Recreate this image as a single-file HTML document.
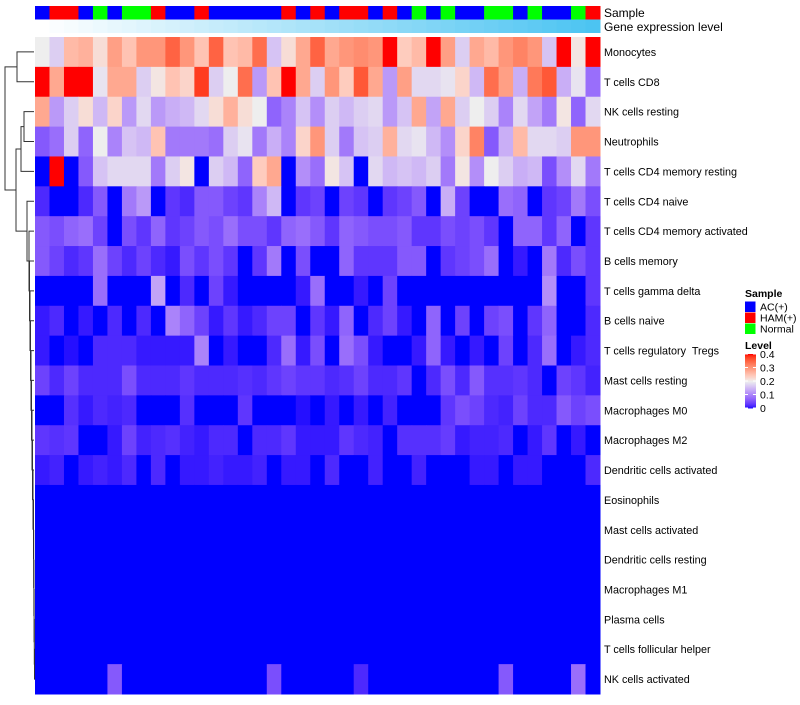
<!DOCTYPE html>
<html><head><meta charset="utf-8"><style>
body{margin:0;background:#fff;}
svg text{font-family:"Liberation Sans",sans-serif;fill:#000;white-space:pre;}
</style></head><body>
<svg id="chart" width="800" height="700" xmlns="http://www.w3.org/2000/svg"></svg>
<script>
const rowLabels=["Monocytes","T cells CD8","NK cells resting","Neutrophils","T cells CD4 memory resting","T cells CD4 naive","T cells CD4 memory activated","B cells memory","T cells gamma delta","B cells naive","T cells regulatory  Tregs","Mast cells resting","Macrophages M0","Macrophages M2","Dendritic cells activated","Eosinophils","Mast cells activated","Dendritic cells resting","Macrophages M1","Plasma cells","T cells follicular helper","NK cells activated"];
const sampleGroups=["AC(+)","HAM(+)","HAM(+)","AC(+)","Normal","AC(+)","Normal","Normal","HAM(+)","AC(+)","AC(+)","HAM(+)","AC(+)","AC(+)","AC(+)","AC(+)","AC(+)","HAM(+)","AC(+)","HAM(+)","AC(+)","HAM(+)","HAM(+)","AC(+)","HAM(+)","AC(+)","Normal","AC(+)","Normal","AC(+)","AC(+)","Normal","Normal","AC(+)","Normal","AC(+)","AC(+)","Normal","HAM(+)"];
const sampleColors={"AC(+)":"#0000FF","HAM(+)":"#FF0000","Normal":"#00FF00"};
const legendTicks=[0,0.1,0.2,0.3,0.4];
const values=[
[.2,.17,.26,.27,.22,.29,.25,.3,.3,.35,.3,.25,.35,.25,.26,.34,.16,.22,.28,.35,.28,.3,.31,.3,.4,.24,.26,.4,.29,.17,.28,.26,.3,.32,.3,.16,.4,.21,.4],
[.4,.28,.4,.4,.19,.28,.28,.17,.21,.25,.23,.38,.17,.2,.34,.12,.25,.4,.28,.17,.3,.24,.36,.28,.12,.29,.18,.18,.19,.23,.15,.34,.29,.14,.33,.36,.14,.19,.08],
[.28,.12,.17,.22,.15,.23,.12,.18,.12,.14,.15,.18,.22,.27,.22,.2,.07,.1,.16,.11,.17,.15,.17,.18,.12,.16,.28,.13,.28,.17,.2,.17,.1,.18,.13,.09,.21,.07,.18],
[.06,.08,.17,.07,.2,.1,.16,.15,.25,.09,.09,.09,.08,.17,.19,.09,.14,.1,.23,.3,.17,.09,.16,.17,.27,.18,.19,.15,.11,.23,.32,.06,.14,.26,.18,.18,.17,.3,.3],
[0,.4,0,.06,.16,.18,.18,.18,.09,.17,.21,0,.17,.15,.07,.24,.28,0,.11,.08,.21,.16,0,.18,.15,.16,.15,.17,.09,.21,.11,.2,.17,.14,.15,.05,.11,.18,.09],
[.02,0,0,.02,.06,0,.09,.12,0,.03,.02,.06,.06,.04,.03,.1,.15,0,.03,.04,0,.04,.03,0,.03,.04,.06,0,.14,.04,0,0,.08,.07,0,.03,.04,.09,.05],
[.06,.05,.07,.08,.04,0,.05,.03,.07,.03,.04,.06,.05,.08,.05,.05,.03,.07,.08,.06,.03,.07,.06,.05,.05,.06,.03,.03,.05,.04,.05,.03,0,.07,.07,.03,.07,0,.03],
[.06,.04,.02,.03,.08,.04,.02,.04,.02,.01,.05,.03,.05,.03,0,.03,.09,0,.05,0,0,.07,.03,.03,.03,.06,.06,0,.03,.04,.05,.08,0,.01,0,.09,.02,.05,.03],
[0,0,0,0,.08,0,0,0,.13,0,.02,0,.04,.01,0,0,0,0,.01,.08,0,0,.01,0,.04,0,0,0,0,0,0,0,0,0,0,.11,0,0,.03],
[.01,.02,0,.01,0,.02,0,.02,0,.1,.07,.04,.01,.03,.01,.02,.04,.04,0,.03,.01,.07,0,.02,.04,.01,0,.07,0,.04,0,.04,.05,0,.03,.07,0,0,.02],
[.01,0,.005,0,.02,.02,.02,.01,.01,.01,.01,.1,0,.01,0,0,.02,.08,.01,.05,0,.08,.05,.01,0,0,.01,.07,.01,0,.01,0,.04,0,.02,.08,0,.01,.02],
[.04,.02,.04,.02,.02,.02,.05,.02,.02,.02,.03,.02,.02,.02,.025,.02,.03,.04,.03,.03,.02,.025,.04,.02,.02,.03,0,.02,.05,.02,.06,.025,.025,.03,.02,0,.04,.03,.015],
[0,0,.025,.01,.02,.015,.02,0,0,0,.025,0,0,0,.03,0,0,0,.005,0,.01,0,.01,0,.015,0,0,0,.03,.05,.04,.02,.015,.04,.02,.02,.06,.04,.05],
[.03,.025,.03,0,0,.01,.04,.015,.02,.025,.015,.01,.02,.02,0,.02,.02,.03,.01,.01,.01,.03,.02,.015,0,.025,.025,.025,.035,.01,.015,.015,.02,0,.01,.03,0,.01,0],
[.01,.015,0,.01,.015,.01,.02,0,.02,0,.01,.01,.015,.01,.01,.015,0,.01,.01,0,.02,0,0,.015,0,0,.015,0,0,0,.01,.01,0,.01,.01,0,0,0,.02],
[0,0,0,0,0,0,0,0,0,0,0,0,0,0,0,0,0,0,0,0,0,0,0,0,0,0,0,0,0,0,0,0,0,0,0,0,0,0,0],
[0,0,0,0,0,0,0,0,0,0,0,0,0,0,0,0,0,0,0,0,0,0,0,0,0,0,0,0,0,0,0,0,0,0,0,0,0,0,0],
[0,0,0,0,0,0,0,0,0,0,0,0,0,0,0,0,0,0,0,0,0,0,0,0,0,0,0,0,0,0,0,0,0,0,0,0,0,0,0],
[0,0,0,0,0,0,0,0,0,0,0,0,0,0,0,0,0,0,0,0,0,0,0,0,0,0,0,0,0,0,0,0,0,0,0,0,0,0,0],
[0,0,0,0,0,0,0,0,0,0,0,0,0,0,0,0,0,0,0,0,0,0,0,0,0,0,0,0,0,0,0,0,0,0,0,0,0,0,0],
[0,0,0,0,0,0,0,0,0,0,0,0,0,0,0,0,0,0,0,0,0,0,0,0,0,0,0,0,0,0,0,0,0,0,0,0,0,0,0],
[0,0,0,0,0,.06,0,0,0,0,0,0,0,0,0,0,.05,0,0,0,0,0,.02,0,0,0,0,0,0,0,0,0,.06,0,0,0,0,.08,0]
];
const NS="http://www.w3.org/2000/svg";
const svg=document.getElementById('chart');
function mk(t,a,p){const e=document.createElementNS(NS,t);for(const k in a)e.setAttribute(k,a[k]);(p||svg).appendChild(e);return e;}
const X0=35,X1=600,Y0=37,Y1=694;
const nC=sampleGroups.length,nR=rowLabels.length;
const cw=(X1-X0)/nC,rh=(Y1-Y0)/nR;
const xCol=i=>X0+i*cw, yRow=r=>Y0+r*rh;
function toLin(c){c/=255;return c<=0.04045?c/12.92:Math.pow((c+0.055)/1.055,2.4);}
function fromLin(c){const v=c<=0.0031308?12.92*c:1.055*Math.pow(c,1/2.4)-0.055;return Math.round(Math.max(0,Math.min(1,v))*255);}
function rgb2lab(r,g,b){r=toLin(r);g=toLin(g);b=toLin(b);let x=(0.4124*r+0.3576*g+0.1805*b)/0.95047,y=0.2126*r+0.7152*g+0.0722*b,z=(0.0193*r+0.1192*g+0.9505*b)/1.08883;const f=t=>t>0.008856?Math.cbrt(t):7.787*t+16/116;x=f(x);y=f(y);z=f(z);return[116*y-16,500*(x-y),200*(y-z)];}
function lab2rgb(L,a,b){let y=(L+16)/116,x=a/500+y,z=y-b/200;const fi=t=>t*t*t>0.008856?t*t*t:(t-16/116)/7.787;x=fi(x)*0.95047;y=fi(y);z=fi(z)*1.08883;const r=3.2406*x-1.5372*y-0.4986*z,g=-0.9689*x+1.8758*y+0.0415*z,bb=0.0557*x-0.2040*y+1.0570*z;return`rgb(${fromLin(r)},${fromLin(g)},${fromLin(bb)})`;}
const stops=[[0,rgb2lab(0,0,255)],[0.2,rgb2lab(238,238,238)],[0.4,rgb2lab(255,0,0)]];
function colorOf(v){v=Math.max(0,Math.min(0.4,v));const i=v<=0.2?0:1;const t=(v-stops[i][0])/0.2;const a=stops[i][1],b=stops[i+1][1];return lab2rgb(a[0]+(b[0]-a[0])*t,a[1]+(b[1]-a[1])*t,a[2]+(b[2]-a[2])*t);}
const gAnn=mk('g',{});


sampleGroups.forEach((s,i)=>{const r=mk('rect',{x:xCol(i),y:6,width:cw+0.5,height:13.5,fill:sampleColors[s]},gAnn);

});
const gExp=mk('g',{});


for(let i=0;i<nC;i++){const t=i/(nC-1);const c=`rgb(${Math.round(255-t*(255-76))},${Math.round(255-t*(255-196))},${Math.round(255-t*(255-242))})`;
const r=mk('rect',{x:xCol(i),y:19.5,width:cw+0.5,height:13.5,fill:c},gExp);

}
const t1=mk('text',{x:604,y:17,'font-size':12});t1.textContent='Sample';


const t2=mk('text',{x:604,y:31,'font-size':12});t2.textContent='Gene expression level';


const gH=mk('g',{});


values.forEach((row,r)=>row.forEach((v,c)=>{const e=mk('rect',{x:xCol(c),y:yRow(r),width:cw+0.5,height:rh+0.5,fill:colorOf(v)},gH);

}));
rowLabels.forEach((l,r)=>{const e=mk('text',{x:604,y:yRow(r)+rh/2+4,'font-size':10.8});e.textContent=l;

});
let C=21;const hs={20:34.5,19:34.3,18:34.1,17:33.9,16:33.7,15:33.5,14:33,13:32.5,12:32,11:31.5,10:31,9:30.5,8:30,7:29.5,6:29,5:27};
for(let r=20;r>=5;r--)C=[r,C,hs[r]];
const tree=[[0,1,17],[[[2,3,24],4,21],C,16],5];
const gD=mk('g',{stroke:'#333','stroke-width':1,fill:'none'});


function draw(n){if(typeof n==='number')return{x:34,y:yRow(n)+rh/2};const a=draw(n[0]),b=draw(n[1]),h=n[2];
mk('path',{d:`M${a.x},${a.y}H${h}V${b.y}H${b.x}`},gD);return{x:h,y:(a.y+b.y)/2};}
draw(tree);
const gL=mk('g',{});


const lt=mk('text',{x:745,y:297,'font-size':10.5,'font-weight':'bold'},gL);lt.textContent='Sample';
Object.keys(sampleColors).forEach((k,i)=>{const r=mk('rect',{x:745,y:301.5+i*11,width:10.5,height:10.5,fill:sampleColors[k]},gL);


const t=mk('text',{x:760,y:310.5+i*11,'font-size':10.5},gL);t.textContent=k;

});
const lt2=mk('text',{x:745,y:349,'font-size':10.5,'font-weight':'bold'},gL);lt2.textContent='Level';
const barTop=354,barBot=408;
for(let i=0;i<60;i++){const v=0.4*(1-i/60);mk('rect',{x:745,y:barTop+i*(barBot-barTop)/60,width:11,height:(barBot-barTop)/60+0.5,fill:colorOf(v)},gL);}
legendTicks.forEach(v=>{const y=barBot-(v/0.4)*(barBot-barTop);
mk('line',{x1:745,x2:748,y1:y,y2:y,stroke:'#fff','stroke-width':1},gL);
mk('line',{x1:753,x2:756,y1:y,y2:y,stroke:'#fff','stroke-width':1},gL);
const t=mk('text',{x:760,y:y+4,'font-size':10.5},gL);t.textContent=String(v);

});
</script>
</body></html>
